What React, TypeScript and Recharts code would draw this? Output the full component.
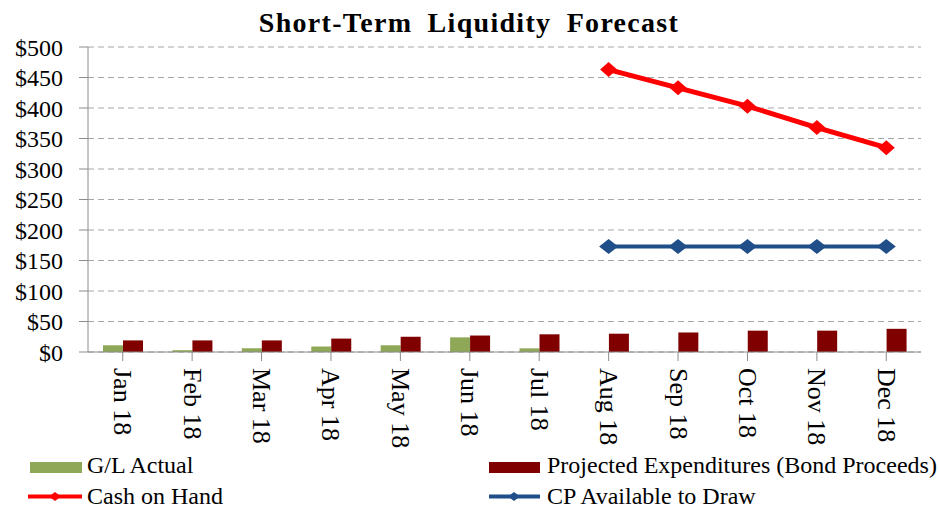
import React from "react";
import { ComposedChart, Bar, Line, XAxis, YAxis, CartesianGrid, Legend } from "recharts";

const months = ["Jan 18", "Feb 18", "Mar 18", "Apr 18", "May 18", "Jun 18", "Jul 18", "Aug 18", "Sep 18", "Oct 18", "Nov 18", "Dec 18"];
const glActual = [11, 3, 6, 9, 11, 24, 6, null, null, null, null, null];
const projectedExpenditures = [19, 19, 19, 22, 25, 27, 29, 30, 32, 35, 35, 38];
const cashOnHand = [null, null, null, null, null, null, null, 463, 433, 403, 368, 335];
const cpAvailable = [null, null, null, null, null, null, null, 173, 173, 173, 173, 173];
const yTicks = [0, 50, 100, 150, 200, 250, 300, 350, 400, 450, 500];

const data = months.map((m, i) => ({
  month: m,
  gl: glActual[i],
  proj: projectedExpenditures[i],
  cash: cashOnHand[i],
  cp: cpAvailable[i],
}));

const FONT = '"Liberation Serif", "Times New Roman", serif';
const GREEN = "#8FA858";
const MAROON = "#800000";
const RED = "#FF0000";
const BLUE = "#1F4E89";

const XTick = (props: any) => {
  const { x, y, payload } = props;
  return (
    <text
      x={0}
      y={0}
      transform={`translate(${x},${y + 5}) rotate(90)`}
      textAnchor="start"
      dominantBaseline="central"
      fontFamily={FONT}
      fontSize={26}
      fill="#000"
    >
      {payload.value}
    </text>
  );
};

const makeDiamond = (color: string, w: number, h: number) => (props: any) => {
  const { cx, cy, index } = props;
  if (cx == null || cy == null || props.value == null) return <g key={index} />;
  return (
    <polygon
      key={index}
      points={`${cx - w / 2},${cy} ${cx},${cy - h / 2} ${cx + w / 2},${cy} ${cx},${cy + h / 2}`}
      fill={color}
      stroke="none"
    />
  );
};

const LegendContent = () => (
  <svg width={939} height={58} style={{ display: "block" }}>
    <rect x={30} y={10} width={52} height={11} fill={GREEN} />
    <text x={87} y={21} fontFamily={FONT} fontSize={24} fill="#000">G/L Actual</text>
    <rect x={489} y={10} width={51} height={11} fill={MAROON} />
    <text x={547} y={21} fontFamily={FONT} fontSize={24} fill="#000">Projected Expenditures (Bond Proceeds)</text>
    <line x1={28} y1={44.5} x2={82} y2={44.5} stroke={RED} strokeWidth={4} />
    <polygon points="49,44.5 55,40 61,44.5 55,49" fill={RED} />
    <text x={87} y={52} fontFamily={FONT} fontSize={24} fill="#000">Cash on Hand</text>
    <line x1={489} y1={44.5} x2={540} y2={44.5} stroke={BLUE} strokeWidth={4} />
    <polygon points="508,44.5 514,40 520,44.5 514,49" fill={BLUE} />
    <text x={547} y={52} fontFamily={FONT} fontSize={24} fill="#000">CP Available to Draw</text>
  </svg>
);

export default function App() {
  return (
    <div style={{ position: "absolute", left: 0, top: 0, width: 939, height: 510, background: "#fff" }}>
      <ComposedChart
        width={939}
        height={510}
        data={data}
        margin={{ top: 47, right: 18, bottom: 0, left: 0 }}
        barGap={0}
        barSize={20}
      >
        <CartesianGrid vertical={false} stroke="#a6a6a6" strokeDasharray="6 4" />
        <XAxis
          dataKey="month"
          height={100}
          interval={0}
          tick={<XTick />}
          tickSize={9}
          tickMargin={2}
          axisLine={{ stroke: "#8c8c8c" }}
          tickLine={{ stroke: "#8c8c8c" }}
        />
        <YAxis
          width={88}
          domain={[0, 500]}
          ticks={yTicks}
          interval={0}
          tickFormatter={(v: number) => `$${v}`}
          tick={{ fontFamily: FONT, fontSize: 24, fill: "#000" }}
          tickSize={9}
          tickMargin={16}
          axisLine={{ stroke: "#8c8c8c" }}
          tickLine={{ stroke: "#8c8c8c" }}
        />
        <Legend verticalAlign="bottom" height={58} content={<LegendContent />} wrapperStyle={{ left: 0, bottom: 0, width: 939, height: 58 }} />
        <Bar dataKey="gl" name="G/L Actual" fill={GREEN} isAnimationActive={false} />
        <Bar dataKey="proj" name="Projected Expenditures (Bond Proceeds)" fill={MAROON} isAnimationActive={false} />
        <Line dataKey="cash" name="Cash on Hand" stroke={RED} strokeWidth={5} dot={makeDiamond(RED, 17, 15)} activeDot={false} isAnimationActive={false} />
        <Line dataKey="cp" name="CP Available to Draw" stroke={BLUE} strokeWidth={4} dot={makeDiamond(BLUE, 19, 15)} activeDot={false} isAnimationActive={false} />
      </ComposedChart>
      <svg width={939} height={45} style={{ position: "absolute", left: 0, top: 0, pointerEvents: "none" }}>
        <text x={469} y={32} textAnchor="middle" fontFamily={FONT} fontWeight="bold" fontSize={28} wordSpacing={7} letterSpacing={1.3} fill="#000">
          Short-Term Liquidity Forecast
        </text>
      </svg>
    </div>
  );
}
